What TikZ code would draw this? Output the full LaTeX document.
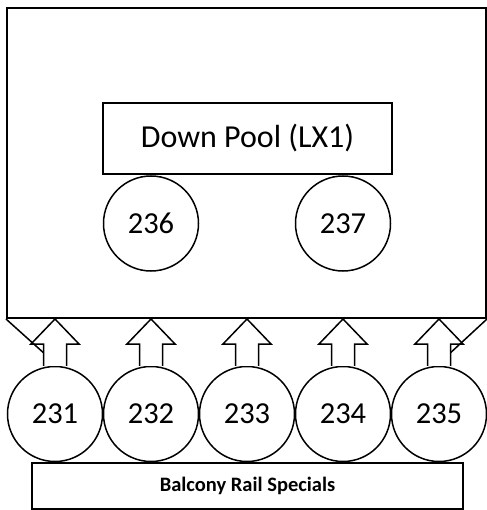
\documentclass[tikz,border=0pt]{standalone}
\usepackage{fontspec}
\setmainfont{Carlito}
\usetikzlibrary{calc}

\begin{document}
\begin{tikzpicture}[x=1pt, y=-1pt, line width=1.5pt]
    \tikzset{
        pool/.style={draw, circle, minimum size=95pt, inner sep=0pt, fill=white, font=\fontsize{30.5}{36}\selectfont},
        panel/.style={draw, rectangle, inner sep=0pt, line width=2pt}
    }
    \useasboundingbox (0,0) rectangle (486,510);

    % khung lớn phía trên
    \node[panel, minimum width=479pt, minimum height=310pt] (hall) at (246.5,163) {};
    \node[panel, minimum width=289pt, minimum height=71pt, font=\fontsize{32}{36}\selectfont] (down) at (247.5,138.5) {Down Pool (LX1)};
    \node[pool] (c6) at (151,223.5) {236};
    \node[pool] (c7) at (343,223.5) {237};

    % hàng bể phía dưới
    \foreach \i/\n in {1/231, 2/232, 3/233, 4/234, 5/235}
        \node[pool] (c\i) at ({55+96*(\i-1)},414) {\n};
    \node[panel, line width=1.5pt, minimum width=431pt, minimum height=46pt, font=\fontsize{20.5}{24}\selectfont\bfseries] (rail) at (247.5,486) {Balcony Rail Specials};

    % mũi tên khối đi lên
    \foreach \i in {1,...,5}
        \draw[fill=white] ($(c\i.north)+(-11.5,0)$) |- ($(c\i |- hall.south)+(-24,25)$) -- (c\i |- hall.south)
            -- ($(c\i |- hall.south)+(24,25)$) -| ($(c\i.north)+(11.5,0)$);
    \draw (hall.south west) -- ($(c1.north)+(-11.5,-13)$);
    \draw (hall.south east) -- ($(c5.north)+(11.5,-13)$);
\end{tikzpicture}
\end{document}
